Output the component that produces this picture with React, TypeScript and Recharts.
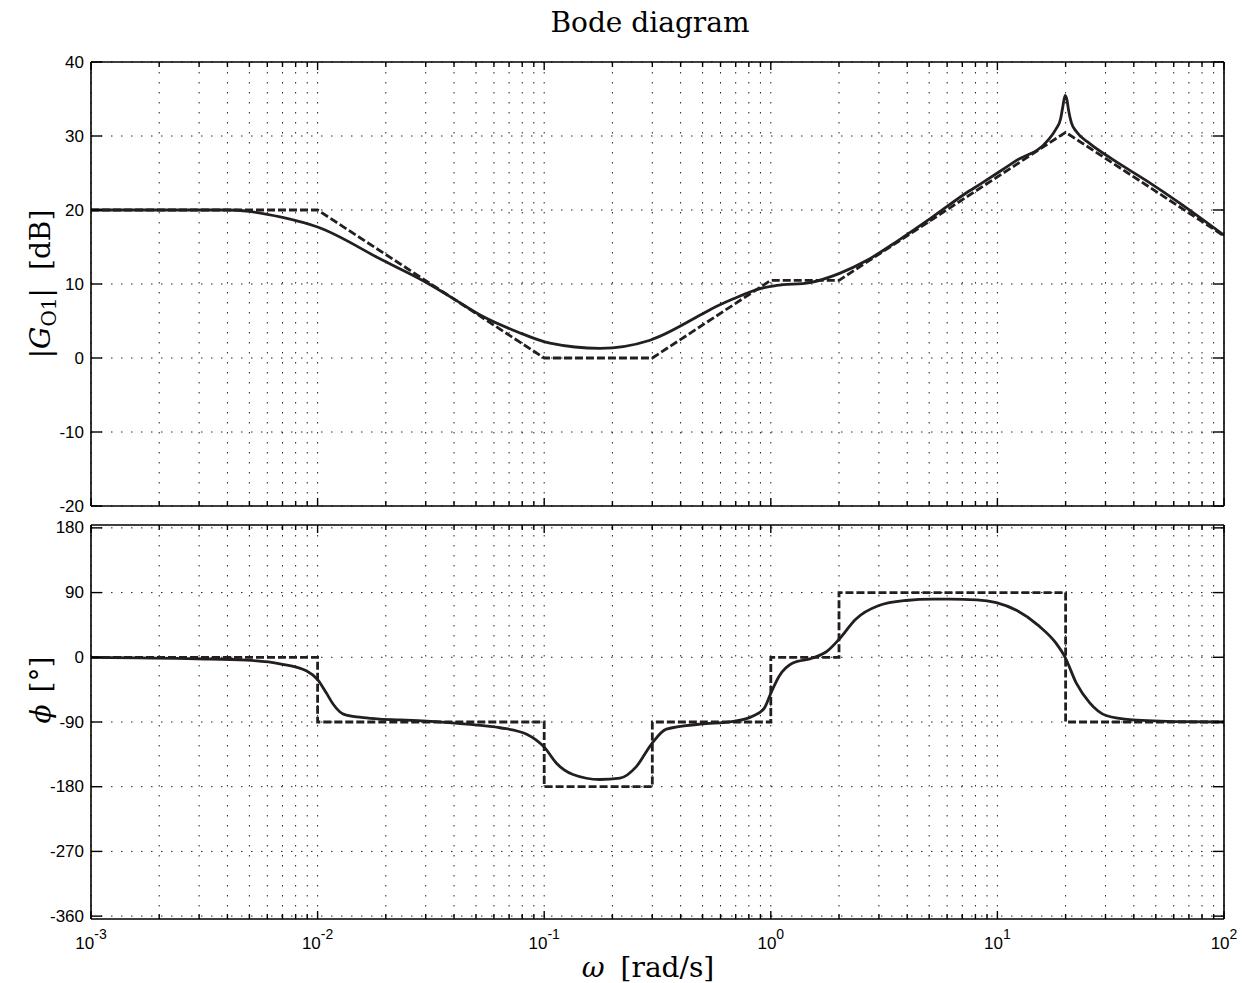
import React from 'react';
import { LineChart, Line, XAxis, YAxis, CartesianGrid } from 'recharts';

// ---------- axes ----------
const X_DOMAIN: [number, number] = [0.001, 100];
const X_DECADES = [0.001, 0.01, 0.1, 1, 10];
const X_MINOR_MULT = [1, 2, 3, 4, 5, 6, 7, 8, 9];
const X_TICKS: number[] = [];
X_DECADES.forEach((d) => X_MINOR_MULT.forEach((m) => X_TICKS.push(+(d * m).toPrecision(6))));
X_TICKS.push(100);

const MAG_TICKS = [-20, -10, 0, 10, 20, 30, 40];
const MAG_DOMAIN: [number, number] = [-20, 40];
const PHASE_TICKS = [-360, -270, -180, -90, 0, 90, 180];
const PHASE_DOMAIN: [number, number] = [-364, 184];

// ---------- magnitude (solid, exact curve) ----------
const magFreq = [0.001, 0.002, 0.003, 0.004, 0.005, 0.007, 0.01, 0.0194, 0.0298, 0.0384, 0.0537, 0.0759, 0.106, 0.176, 0.293, 0.488, 0.537, 0.684, 0.89, 1.06, 1.49, 2.0, 2.66, 3.7, 5.2, 7.2, 8.5, 10, 12, 16.7, 18.1, 19.0, 19.4, 19.9, 20.3, 20.6, 21.2, 22.3, 25.5, 32, 45.8, 64, 100];
const magDb = [20.0, 20.0, 20.0, 20.0, 19.8, 19.0, 17.7, 13.2, 10.3, 8.3, 5.6, 3.55, 2.0, 1.3, 2.4, 5.8, 6.5, 8.0, 9.35, 9.8, 10.2, 11.4, 13.2, 16.0, 19.1, 22.2, 23.6, 25.0, 26.6, 29.4, 30.9, 32.3, 33.8, 35.5, 34.8, 33.5, 31.8, 30.6, 29.0, 26.9, 23.9, 20.9, 16.6];

// ---------- magnitude (dashed, asymptotic) ----------
const magAsymFreq = [0.001, 0.01, 0.1, 0.3, 1, 2, 20, 100];
const magAsymDb = [20, 20, 0, 0, 10.5, 10.5, 30.5, 16.5];

// ---------- phase (solid, exact curve) ----------
const phaseFreq = [0.001, 0.00292, 0.00486, 0.00682, 0.00896, 0.01, 0.0109, 0.0117, 0.013, 0.0159, 0.0188, 0.0231, 0.0455, 0.0639, 0.0837, 0.1007, 0.113, 0.134, 0.176, 0.216, 0.255, 0.297, 0.346, 0.488, 0.684, 0.83, 0.935, 1.0, 1.09, 1.25, 1.53, 1.78, 2.0, 2.37, 3.0, 3.94, 5.2, 6.15, 8.1, 9.9, 12.2, 15.2, 18.1, 19.9, 22.3, 25.5, 30.2, 39.5, 65.6, 100];
const phaseDeg = [0, -2, -4, -9, -19, -31, -49, -65, -79, -84, -86, -87, -93, -98, -107, -126, -147, -163, -170, -168, -152, -121, -100, -93, -89, -82, -71, -50, -26, -8, -1, 9, 25, 53, 72, 79, 81, 81, 80, 76, 65, 44, 20, 0, -36, -63, -81, -87, -89.5, -90];

// ---------- phase (dashed, asymptotic) ----------
const phaseAsymFreq = [0.001, 0.01, 0.01, 0.1, 0.1, 0.3, 0.3, 1, 1, 2, 2, 20, 20, 100];
const phaseAsymDeg = [0, 0, -90, -90, -180, -180, -90, -90, 0, 0, 90, 90, -90, -90];

const toData = (xs: number[], ys: number[]) => xs.map((x, i) => ({ x, y: ys[i] }));
const magData = toData(magFreq, magDb);
const magAsymData = toData(magAsymFreq, magAsymDb);
const phaseData = toData(phaseFreq, phaseDeg);
const phaseAsymData = toData(phaseAsymFreq, phaseAsymDeg);

const INK = '#231f20';
const SANS = '"Liberation Sans", Arial, Helvetica, sans-serif';
const SERIF = '"DejaVu Serif", serif';

const isMajor = (v: number) => {
  const l = Math.log10(v);
  return Math.abs(l - Math.round(l)) < 1e-6;
};

const makeXTick = (pos: 'top' | 'bottom', labels: boolean) => (props: any) => {
  const { x, y, payload } = props;
  const v = payload.value as number;
  const major = isMajor(v);
  const len = major ? 8 : 5;
  const dir = pos === 'bottom' ? -1 : 1;
  const exp = Math.round(Math.log10(v));
  return (
    <g>
      <line x1={x} x2={x} y1={y} y2={y + dir * len} stroke="#000" strokeWidth={1.4} />
      {labels && major && (
        <text x={x} y={y + 30} textAnchor="middle" fontFamily={SANS} fontSize={17} fill="#000">
          10
          <tspan dy={-10} fontSize={14}>
            {exp < 0 ? '-' + Math.abs(exp) : String(exp)}
          </tspan>
        </text>
      )}
    </g>
  );
};

const makeYTick = (side: 'left' | 'right', labels: boolean) => (props: any) => {
  const { x, y, payload } = props;
  const dir = side === 'left' ? 1 : -1;
  return (
    <g>
      <line x1={x} x2={x + dir * 11} y1={y} y2={y} stroke="#000" strokeWidth={1.4} />
      {labels && (
        <text x={x - 7} y={y} textAnchor="end" dominantBaseline="central" fontFamily={SANS} fontSize={17} fill="#000">
          {payload.value}
        </text>
      )}
    </g>
  );
};

const axisLine = { stroke: '#000', strokeWidth: 1.6 };

interface PanelProps {
  height: number;
  margin: { top: number; right: number; bottom: number; left: number };
  yTicks: number[];
  yDomain: [number, number];
  solid: { x: number; y: number }[];
  dashed: { x: number; y: number }[];
  xLabels: boolean;
}

function Panel({ height, margin, yTicks, yDomain, solid, dashed, xLabels }: PanelProps) {
  return (
    <LineChart width={1246} height={height} margin={margin} style={{ overflow: 'visible' }}>
      <CartesianGrid
        xAxisId="b"
        yAxisId="l"
        stroke="#222"
        strokeWidth={1}
        strokeDasharray="1.5 8.5"
        horizontalValues={yTicks}
        verticalValues={X_TICKS}
      />
      <XAxis
        xAxisId="b"
        dataKey="x"
        type="number"
        scale="log"
        domain={X_DOMAIN}
        allowDataOverflow
        ticks={X_TICKS}
        interval={0}
        orientation="bottom"
        height={1}
        tickSize={0}
        tickMargin={0}
        tickLine={false}
        axisLine={axisLine}
        tick={makeXTick('bottom', xLabels)}
      />
      <XAxis
        xAxisId="t"
        dataKey="x"
        type="number"
        scale="log"
        domain={X_DOMAIN}
        allowDataOverflow
        ticks={X_TICKS}
        interval={0}
        orientation="top"
        height={1}
        tickSize={0}
        tickMargin={0}
        tickLine={false}
        axisLine={axisLine}
        tick={makeXTick('top', false)}
      />
      <YAxis
        yAxisId="l"
        type="number"
        domain={yDomain}
        allowDataOverflow
        ticks={yTicks}
        interval={0}
        orientation="left"
        width={1}
        tickSize={0}
        tickMargin={0}
        tickLine={false}
        axisLine={axisLine}
        tick={makeYTick('left', true)}
      />
      <YAxis
        yAxisId="r"
        type="number"
        domain={yDomain}
        allowDataOverflow
        ticks={yTicks}
        interval={0}
        orientation="right"
        width={1}
        tickSize={0}
        tickMargin={0}
        tickLine={false}
        axisLine={axisLine}
        tick={makeYTick('right', false)}
      />
      <Line
        xAxisId="b"
        yAxisId="l"
        data={dashed}
        dataKey="y"
        type="linear"
        stroke={INK}
        strokeWidth={2.8}
        strokeDasharray="8 3"
        dot={false}
        activeDot={false}
        isAnimationActive={false}
      />
      <Line
        xAxisId="b"
        yAxisId="l"
        data={solid}
        dataKey="y"
        type="monotone"
        stroke={INK}
        strokeWidth={2.8}
        dot={false}
        activeDot={false}
        isAnimationActive={false}
      />
    </LineChart>
  );
}

export default function App() {
  return (
    <div style={{ position: 'absolute', left: 0, top: 0, width: 1246, height: 983, background: '#fff' }}>
      <div style={{ position: 'absolute', left: 0, top: 0 }}>
        <Panel
          height={515}
          margin={{ top: 61, right: 21, bottom: 8, left: 90 }}
          yTicks={MAG_TICKS}
          yDomain={MAG_DOMAIN}
          solid={magData}
          dashed={magAsymData}
          xLabels={false}
        />
      </div>
      <div style={{ position: 'absolute', left: 0, top: 515 }}>
        <Panel
          height={468}
          margin={{ top: 9, right: 21, bottom: 63, left: 90 }}
          yTicks={PHASE_TICKS}
          yDomain={PHASE_DOMAIN}
          solid={phaseData}
          dashed={phaseAsymData}
          xLabels={true}
        />
      </div>
      <svg
        width={1246}
        height={983}
        style={{ position: 'absolute', left: 0, top: 0, pointerEvents: 'none' }}
      >
        <text x={650} y={32} textAnchor="middle" fontFamily={SERIF} fontSize={28} fill="#000">
          Bode diagram
        </text>
        <text transform="translate(50,284) rotate(-90)" textAnchor="middle" fontFamily={SERIF} fontSize={28} fill="#000">
          |<tspan fontStyle="italic">G</tspan>
          <tspan fontSize={20} dy={6}>O1</tspan>
          <tspan dy={-6}>|</tspan>
          <tspan dx={18}>[dB]</tspan>
        </text>
        <text transform="translate(50,690) rotate(-90)" textAnchor="middle" fontFamily={SERIF} fontSize={28} fill="#000">
          <tspan fontStyle="italic">ϕ</tspan>
          <tspan dx={12}>[°]</tspan>
        </text>
        <text x={648} y={977} textAnchor="middle" fontFamily={SERIF} fontSize={28} fill="#000">
          <tspan fontStyle="italic">ω</tspan>
          <tspan dx={16}>[rad/s]</tspan>
        </text>
      </svg>
    </div>
  );
}
